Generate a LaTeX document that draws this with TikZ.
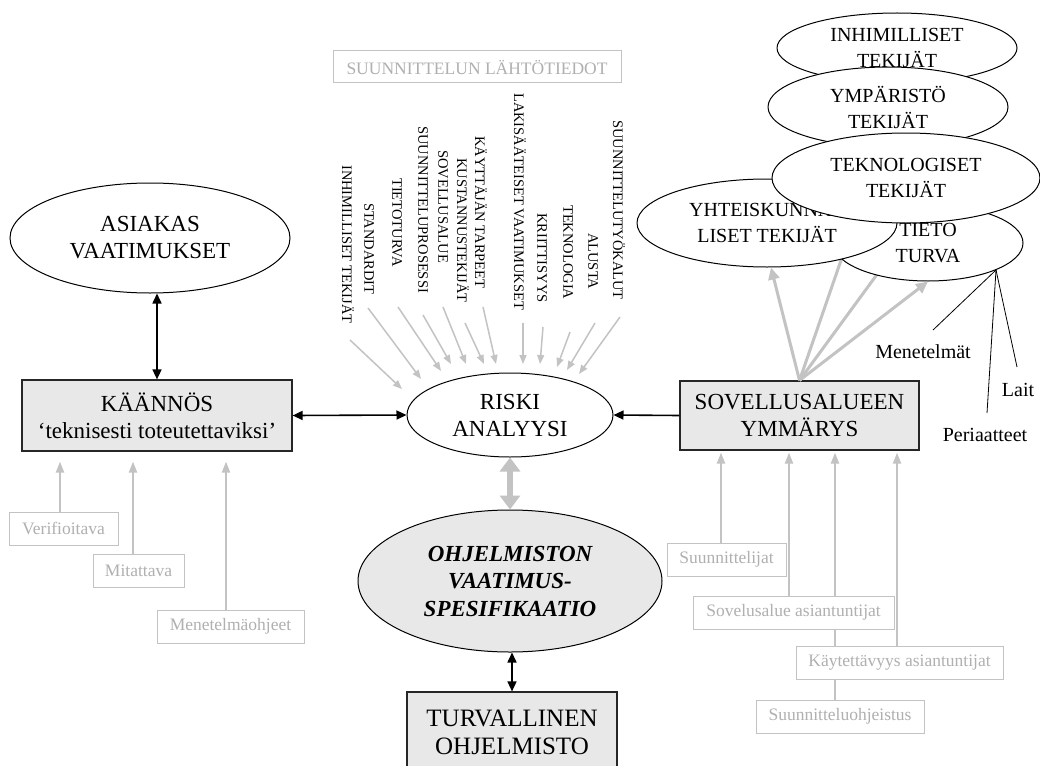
\documentclass[tikz,border=0pt]{standalone}
\usepackage{fontspec}
\setmainfont{Liberation Serif}
\usetikzlibrary{arrows.meta,shapes.geometric}
\definecolor{lg}{HTML}{C3C3C3}
\definecolor{lgt}{HTML}{B0B0B0}
\definecolor{bx}{HTML}{E8E8E8}
\pgfdeclarelayer{bg}
\pgfsetlayers{bg,main}
\begin{document}
\begin{tikzpicture}[x=1pt,y=-1pt,
  fbig/.style={font=\fontsize{23}{27}\selectfont},
  fmid/.style={font=\fontsize{20}{26}\selectfont},
  fsml/.style={font=\fontsize{17.5}{20}\selectfont},
  fvert/.style={font=\fontsize{14.5}{16}\selectfont},
  ell/.style={draw, ellipse, line width=1pt, fill=white, inner sep=0pt, align=center},
  mainbox/.style={draw=black!85, line width=1.2pt, fill=bx, inner sep=0pt, align=center, fbig},
  gbox/.style={draw=lg, line width=1pt, fill=white, text=lgt, inner sep=0pt, fsml, minimum height=33pt},
  blk/.style={line width=1.6pt, {Triangle[length=10pt,width=9pt]}-{Triangle[length=10pt,width=9pt]}},
  blkone/.style={line width=1.6pt, -{Triangle[length=10pt,width=9pt]}},
  garrow/.style={draw=lg, line width=1.5pt, -{Triangle[length=9pt,width=7pt]}},
  gup/.style={draw=lg, line width=2pt, -{Triangle[length=11pt,width=8pt]}},
  gfan/.style={draw=lg, line width=3pt, -{Triangle[length=12pt,width=11pt]}},
  thinl/.style={line width=0.8pt},
  vlab/.style={rotate=-90, anchor=west, inner sep=0pt, fvert},
]
\clip (0,0) rectangle (1040,765);
\begin{pgfonlayer}{bg}
\fill[white] (0,0) rectangle (1040,765);
\end{pgfonlayer}

% main nodes
\node[ell, fbig, minimum width=280pt, minimum height=110pt] (asiakas) at (150,238) {ASIAKAS\\VAATIMUKSET};
\node[mainbox, minimum width=270pt, minimum height=71pt] (kaannos) at (157,415.5) {KÄÄNNÖS\\‘teknisesti toteutettaviksi’};
\node[ell, fbig, minimum width=206pt, minimum height=84pt] (riski) at (510,415) {RISKI\\ANALYYSI};
\node[mainbox, minimum width=239pt, minimum height=69pt] (sovellus) at (799.5,415.5) {SOVELLUSALUEEN\\YMMÄRYS};
\node[ell, fill=bx, minimum width=304pt, minimum height=142pt, font=\fontsize{23}{27.5}\selectfont\bfseries\itshape] (ohj) at (510,581) {OHJELMISTON\\VAATIMUS-\\SPESIFIKAATIO};
\node[mainbox, minimum width=210pt, minimum height=80pt, font=\fontsize{25}{28}\selectfont] (turv) at (512,732) {TURVALLINEN\\OHJELMISTO};
\node[draw=lg, line width=1pt, text=lgt, minimum width=288pt, minimum height=32pt, inner sep=0pt, fsml] (lahto) at (477,67) {SUUNNITTELUN LÄHTÖTIEDOT};

% main connectors
\draw[blk] (kaannos.north) -- (kaannos.north |- asiakas.south);
\draw[blk] (kaannos.east) -- (riski.west);
\draw[blkone] (sovellus.west) -- (riski.east);
\draw[draw=lg, line width=6pt, {Triangle[length=14pt,width=20pt]}-{Triangle[length=14pt,width=20pt]}] (riski.south) -- (ohj.north);
\draw[blk] (turv.north) -- (turv.north |- ohj.south);

% right cluster of ellipses
\node[ell, fmid, minimum width=190pt, minimum height=76pt] (tieto) at (928,243) {TIETO\\TURVA};
\node[ell, fmid, minimum width=260pt, minimum height=88pt] (yhteis) at (767,223) {YHTEISKUNNAL\\LISET TEKIJÄT};
\node[ell, fmid, minimum width=240pt, minimum height=70pt] (inhim) at (897,48) {INHIMILLISET\\TEKIJÄT};
\node[ell, fmid, minimum width=240pt, minimum height=80pt] (ymp) at (888,107) {YMPÄRISTÖ\\TEKIJÄT};
\node[ell, fmid, minimum width=268pt, minimum height=90pt] (tekno) at (906,178) {TEKNOLOGISET\\TEKIJÄT};

\coordinate (h1) at (848,240);
\coordinate (h2) at (889,258);
\begin{pgfonlayer}{bg}
\draw[draw=lg, line width=3pt] (sovellus.north) -- (h1);
\draw[draw=lg, line width=3pt] (sovellus.north) -- (h2);
\end{pgfonlayer}
\draw[gfan] (sovellus.north) -- ([xshift=4pt]yhteis.south);
\draw[gfan] (sovellus.north) -- (tieto.south);

% tietoturva sub-labels
\node[fmid] (men) at (923,352) {Menetelmät};
\node[fmid] (lait) at (1018,390) {Lait};
\node[fmid] (peri) at (985,435) {Periaatteet};
\coordinate (tt) at (996,270);
\coordinate (menE) at (933,330);
\coordinate (laitE) at (1017,367);
\coordinate (periE) at (987,413);
\draw[thinl] (tt) -- (menE);
\draw[thinl] (tt) -- (laitE);
\draw[thinl] (tt) -- (periE);

% vertical labels
\node[vlab] (v1) at (348,165) {INHIMILLISET TEKIJÄT};
\node[vlab] (v2) at (369,203) {STANDARDIT};
\node[vlab] (v3) at (397,178) {TIETOTURVA};
\node[vlab] (v4) at (423,126) {SUUNNITTELUPROSESSI};
\node[vlab] (v5) at (443,150) {SOVELLUSALUE};
\node[vlab] (v6) at (463,158) {KUSTANNUSTEKIJÄT};
\node[vlab] (v7) at (481,136) {KÄYTTÄJÄN TARPEET};
\node[vlab] (v8) at (520,93) {LAKISÄÄTEISET VAATIMUKSET};
\node[vlab] (v9) at (542,213) {KRIITTISYYS};
\node[vlab] (v10) at (568,205) {TEKNOLOGIA};
\node[vlab] (v11) at (593,233) {ALUSTA};
\node[vlab] (v12) at (619,120) {SUUNNITTELUTYÖKALUT};

\coordinate (s1) at (350,340);  \coordinate (e1) at (402,389);
\coordinate (s2) at (368,308);  \coordinate (e2) at (421,379);
\coordinate (s3) at (398,307);  \coordinate (e3) at (441,371);
\coordinate (s4) at (423,315);  \coordinate (e4) at (451,364);
\coordinate (s5) at (443,307);  \coordinate (e5) at (466,364);
\coordinate (s6) at (465,323);  \coordinate (e6) at (484,364);
\coordinate (s7) at (483,307);  \coordinate (e7) at (496,364);
\coordinate (s8) at (523,323);  \coordinate (e8) at (523,364);
\coordinate (s9) at (543,327);  \coordinate (e9) at (540,364);
\coordinate (s10) at (570,332); \coordinate (e10) at (557,367);
\coordinate (s11) at (595,323); \coordinate (e11) at (567,370);
\coordinate (s12) at (620,317); \coordinate (e12) at (579,374);
\foreach \i in {1,...,12} { \draw[garrow] (s\i) -- (e\i); }

% bottom-left grey boxes
\node[gbox, minimum width=109pt] (verif) at (63.5,528.5) {Verifioitava};
\node[gbox, minimum width=91pt] (mit) at (138.5,570.5) {Mitattava};
\node[gbox, minimum width=147pt] (meo) at (230.5,626.5) {Menetelmäohjeet};
\coordinate (va) at ([xshift=-3.5pt]verif.north);
\coordinate (ma) at ([xshift=-5.5pt]mit.north);
\coordinate (mea) at ([xshift=-4.5pt]meo.north);
\draw[gup, shorten >=10pt] (va) -- (va |- kaannos.south);
\draw[gup, shorten >=10pt] (ma) -- (ma |- kaannos.south);
\draw[gup, shorten >=10pt] (mea) -- (mea |- kaannos.south);

% bottom-right grey boxes
\node[gbox, minimum width=119pt] (suun) at (726.5,559.5) {Suunnittelijat};
\node[gbox, minimum width=201pt] (sove) at (793.5,612.5) {Sovelusalue asiantuntijat};
\node[gbox, minimum width=207pt] (kayt) at (899.5,663) {Käytettävyys asiantuntijat};
\node[gbox, minimum width=168pt] (sohj) at (840,716.5) {Suunnitteluohjeistus};
\coordinate (sa) at ([xshift=-5.5pt]suun.north);
\coordinate (soa) at ([xshift=-4.5pt]sove.north);
\coordinate (ka) at ([xshift=-2.5pt]kayt.north);
\coordinate (sha) at ([xshift=-5pt]sohj.north);
\draw[gup, shorten >=2pt] (sa) -- (sa |- sovellus.south);
\draw[gup, shorten >=2pt] (soa) -- (soa |- sovellus.south);
\draw[gup, shorten >=2pt] (ka) -- (ka |- sovellus.south);
\begin{pgfonlayer}{bg}
\draw[gup, shorten >=2pt] (sha) -- (sha |- sovellus.south);
\end{pgfonlayer}
\end{tikzpicture}
\end{document}
